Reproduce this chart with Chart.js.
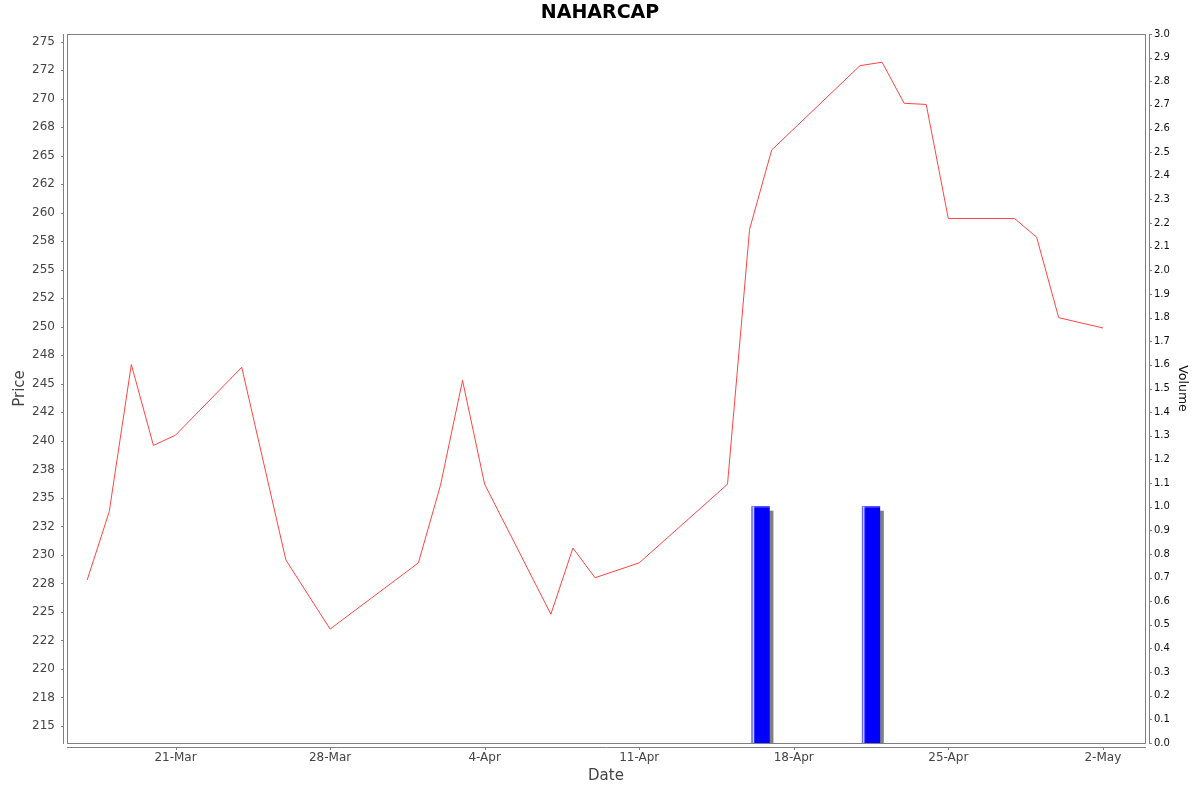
<!DOCTYPE html>
<html><head><meta charset="utf-8">
<script src="https://cdn.jsdelivr.net/npm/chart.js@4.4.1/dist/chart.umd.min.js"></script>
<style>html,body{margin:0;padding:0;background:#fff}canvas{display:block}</style>
</head><body>
<canvas id="c" width="1200" height="792"></canvas>
<script>
const chartTitle = 'NAHARCAP';
const priceDates = ['2024-03-17','2024-03-18','2024-03-19','2024-03-20','2024-03-21','2024-03-24','2024-03-26','2024-03-28',
  '2024-04-01','2024-04-02','2024-04-03','2024-04-04','2024-04-07','2024-04-08','2024-04-09','2024-04-11',
  '2024-04-15','2024-04-16','2024-04-17','2024-04-21','2024-04-22','2024-04-23','2024-04-24','2024-04-25',
  '2024-04-28','2024-04-29','2024-04-30','2024-05-02'];
const prices = [227.8,233.8,246.7,239.6,240.5,246.45,229.55,223.5,
  229.3,236.1,245.3,236.2,224.8,230.6,228.0,229.3,
  236.2,258.55,265.5,272.9,273.2,269.6,269.5,259.5,
  259.5,257.85,250.8,249.9];
const volumeDates = ['2024-04-16','2024-04-21'];
const volumes = [1.0, 1.0];
const dateTickDates = ['2024-03-21','2024-03-28','2024-04-04','2024-04-11','2024-04-18','2024-04-25','2024-05-02'];
const dateTickLabels = ['21-Mar','28-Mar','4-Apr','11-Apr','18-Apr','25-Apr','2-May'];
const priceTickValues = [215,217.5,220,222.5,225,227.5,230,232.5,235,237.5,240,242.5,245,247.5,250,252.5,255,257.5,260,262.5,265,267.5,270,272.5,275];
const priceTickLabels = ['215','218','220','222','225','228','230','232','235','238','240','242','245','248','250','252','255','258','260','262','265','268','270','272','275'];
const volumeTickValues = [0,0.1,0.2,0.3,0.4,0.5,0.6,0.7,0.8,0.9,1.0,1.1,1.2,1.3,1.4,1.5,1.6,1.7,1.8,1.9,2.0,2.1,2.2,2.3,2.4,2.5,2.6,2.7,2.8,2.9,3.0];
const volumeTickLabels = ['0.0','0.1','0.2','0.3','0.4','0.5','0.6','0.7','0.8','0.9','1.0','1.1','1.2','1.3','1.4','1.5','1.6','1.7','1.8','1.9','2.0','2.1','2.2','2.3','2.4','2.5','2.6','2.7','2.8','2.9','3.0'];

const toDay = s => Date.UTC(+s.slice(0,4), +s.slice(5,7)-1, +s.slice(8,10)) / 864e5;
const baseDay = toDay(dateTickDates[0]);

const priceData = priceDates.map((d,i) => ({x: toDay(d), y: prices[i]}));
const volumeData = volumeDates.map((d,i) => ({x: toDay(d) + 0.5, y: volumes[i]}));

Chart.defaults.font.family = 'DejaVu Sans';
Chart.defaults.color = '#444';

const AX = '#808080';
const framePlugin = {
  id: 'frame',
  afterDraw(chart) {
    const {ctx, chartArea: a, scales} = chart;
    const L = Math.round(a.left), R = Math.round(a.right), T = Math.round(a.top), B = Math.round(a.bottom);
    ctx.save();
    ctx.strokeStyle = AX; ctx.lineWidth = 1;
    ctx.strokeRect(L + 0.5, T + 0.5, R - L, B - T);
    ctx.beginPath();
    ctx.moveTo(L - 3.5, T); ctx.lineTo(L - 3.5, B + 1);
    scales.y.ticks.forEach(t => { const p = Math.round(scales.y.getPixelForValue(t.value)) + 0.5; ctx.moveTo(L - 6, p); ctx.lineTo(L - 3.5, p); });
    ctx.moveTo(R + 4.5, T); ctx.lineTo(R + 4.5, B + 1);
    scales.yVol.ticks.forEach(t => { const p = Math.round(scales.yVol.getPixelForValue(t.value)) + 0.5; ctx.moveTo(R + 4.5, p); ctx.lineTo(R + 7, p); });
    ctx.moveTo(L, B + 4.5); ctx.lineTo(R + 1, B + 4.5);
    scales.x.ticks.forEach(t => { const p = Math.round(scales.x.getPixelForValue(t.value)) + 0.5; ctx.moveTo(p, B + 4.5); ctx.lineTo(p, B + 7); });
    ctx.stroke();
    ctx.restore();
  }
};
const barFx = {
  id: 'barFx',
  beforeDatasetDraw(chart, args) {
    if (args.meta.type !== 'bar') return;
    const {ctx, chartArea: a} = chart;
    ctx.save();
    ctx.beginPath(); ctx.rect(a.left, a.top, a.right - a.left, a.bottom - a.top); ctx.clip();
    ctx.fillStyle = '#808080';
    args.meta.data.forEach(el => {
      const {x, y, base, width} = el.getProps(['x','y','base','width'], true);
      ctx.fillRect(x - width/2 + 4, y + 4, width, base - y);
    });
    ctx.restore();
  },
  afterDatasetDraw(chart, args) {
    if (args.meta.type !== 'bar') return;
    const {ctx} = chart;
    ctx.save();
    args.meta.data.forEach(el => {
      const {x, y, base, width} = el.getProps(['x','y','base','width'], true);
      const l = x - width/2, h = base - y;
      ctx.fillStyle = 'rgba(255,255,255,0.5)'; ctx.fillRect(l, y, 1, h);
      ctx.fillStyle = 'rgba(255,255,255,0.95)'; ctx.fillRect(l + 1, y, 1, h);
      ctx.fillStyle = 'rgba(255,255,255,0.25)'; ctx.fillRect(l + 2, y, 1, h);
      ctx.fillStyle = 'rgba(255,255,255,0.3)'; ctx.fillRect(l, y, width, 1);
    });
    ctx.restore();
  }
};

new Chart(document.getElementById('c'), {
  type: 'line',
  data: {
    datasets: [
      { type: 'line', label: 'Price', data: priceData, xAxisID: 'x', yAxisID: 'y',
        borderColor: '#ff4444', borderWidth: 1, pointRadius: 0, tension: 0, fill: false },
      { type: 'bar', label: 'Volume', data: volumeData, xAxisID: 'x', yAxisID: 'yVol',
        backgroundColor: '#0000ff', borderWidth: 0, barThickness: 17.6 }
    ]
  },
  options: {
    responsive: false,
    animation: false,
    devicePixelRatio: 1,
    layout: { padding: 0 },
    plugins: {
      legend: { display: false },
      tooltip: { enabled: false },
      title: { display: true, text: chartTitle, color: '#000',
        font: { size: 19, weight: 'bold', family: 'DejaVu Sans' }, padding: { top: 1.5, bottom: 9.7 } }
    },
    scales: {
      x: {
        type: 'linear', position: 'bottom', bounds: 'data', offset: false,
        min: baseDay - 4.914, max: baseDay + 43.908,
        grid: { display: false, drawTicks: false, offset: false }, border: { display: false },
        afterBuildTicks: s => { s.ticks = dateTickDates.map(d => ({ value: toDay(d) })); },
        ticks: { autoSkip: false, maxRotation: 0, padding: 7.5, color: '#444', font: { size: 12 },
          callback: (v, i) => dateTickLabels[i] },
        title: { display: true, text: 'Date', color: '#444', font: { size: 15 }, padding: { top: 0, bottom: 7 } },
        afterFit: s => { s.height = 49; }
      },
      y: {
        type: 'linear', position: 'left', bounds: 'data',
        min: 213.509, max: 275.675,
        grid: { display: false, drawTicks: false }, border: { display: false },
        afterBuildTicks: s => { s.ticks = priceTickValues.map(v => ({ value: v })); },
        ticks: { autoSkip: false, padding: 12, color: '#444', font: { size: 12 },
          callback: (v, i) => priceTickLabels[i] },
        title: { display: true, text: 'Price', color: '#444', font: { size: 15 }, padding: { top: 11, bottom: 0 } },
        afterFit: s => { s.width = 67; }
      },
      yVol: {
        type: 'linear', position: 'right', bounds: 'data',
        min: 0, max: 3,
        grid: { display: false, drawTicks: false }, border: { display: false },
        afterBuildTicks: s => { s.ticks = volumeTickValues.map(v => ({ value: v })); },
        ticks: { autoSkip: false, padding: 9, color: '#111', font: { size: 10 },
          callback: (v, i) => volumeTickLabels[i] },
        title: { display: true, text: 'Volume', color: '#111', font: { size: 12.5 }, padding: { top: 10.5, bottom: 0 } },
        afterFit: s => { s.width = 55; }
      }
    }
  },
  plugins: [framePlugin, barFx]
});
</script>
</body></html>
